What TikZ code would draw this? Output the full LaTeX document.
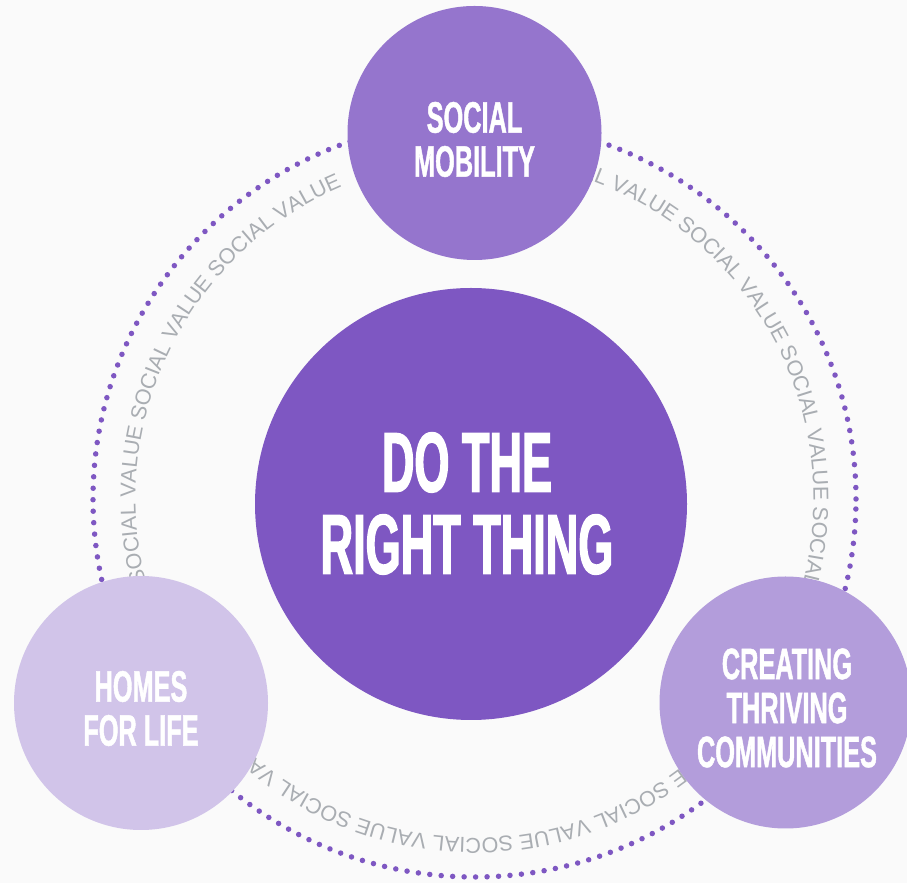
\documentclass[tikz,border=0pt]{standalone}
\usepackage{fontspec}
\usetikzlibrary{decorations.text}
\newfontfamily\bigfont[FakeStretch=0.53,FakeBold=1.5]{Liberation Sans}
\newfontfamily\smallfont[FakeStretch=0.575,FakeBold=1]{Liberation Sans}
\newfontfamily\ringfont{Liberation Sans}
\newcommand\ringstyle{\ringfont\fontsize{21.6}{24}\selectfont}
\definecolor{bg}{HTML}{FAFAFA}
\definecolor{dpA}{HTML}{7E57C2}
\definecolor{dpB}{HTML}{9575CD}
\definecolor{dpC}{HTML}{B39DDB}
\definecolor{dpD}{HTML}{D1C4E9}
\definecolor{ringgray}{HTML}{A9ADB2}
\begin{document}
\begin{tikzpicture}[x=1pt,y=1pt,
  disc/.style={circle, inner sep=0pt, minimum size=#1},
  bigtxt/.style={text=white, align=center, inner sep=0pt, font=\bigfont\bfseries\fontsize{85}{82}\selectfont},
  smalltxt/.style={text=white, align=center, inner sep=0pt, font=\smallfont\bfseries\fontsize{44}{44}\selectfont},
  dotring/.style={draw=dpA, line width=5.5pt, line cap=round, dash pattern=on 0pt off 11.48pt},
  ringtext/.style={decorate, decoration={text along path, text align=left, text color=ringgray, text={|\ringstyle|#1}}}]
\path[use as bounding box, fill=bg] (0,0) rectangle (907,883);
\clip (0,0) rectangle (907,883);
\coordinate (O) at (474.5,384);
% dotted ring
\draw[dotring] (O) ellipse[x radius=381.5, y radius=378];
% ring text (three visible runs, same phase)
\path[ringtext={AL VALUE SOCIAL VALUE SOCIAL VALUE SOCIAL}]
  (O) ++(71.95:339) arc[start angle=71.95, end angle=-28.05, radius=339];
\path[ringtext={E SOCIAL VALUE SOCIAL VALUE SOCIAL VA}]
  (O) ++(-52.73:339) arc[start angle=-52.73, end angle=-142.73, radius=339];
\path[ringtext={SOCIAL VALUE SOCIAL VALUE SOCIAL VALUE}]
  (O) ++(-165.8:339) arc[start angle=-165.8, end angle=-255.8, radius=339];
% circles
\node[disc=432pt, fill=dpA] (core) at (471,379) {};
\node[disc=254pt, fill=dpB] (mobility) at (474.5,750) {};
\node[disc=254pt, fill=dpD] (homes) at (141,180) {};
\node[disc=252pt, fill=dpC] (thriving) at (785.5,180.5) {};
% texts
\node[bigtxt] (coretxt) at (467,379.5) {DO THE\\RIGHT THING};
\node[smalltxt] (mobilitytxt) at (474.5,743.5) {SOCIAL\\MOBILITY};
\node[smalltxt] (homestxt) at (141,174.5) {HOMES\\FOR LIFE};
\node[smalltxt] (thrivingtxt) at (787,175) {CREATING\\THRIVING\\COMMUNITIES};
\end{tikzpicture}
\end{document}
